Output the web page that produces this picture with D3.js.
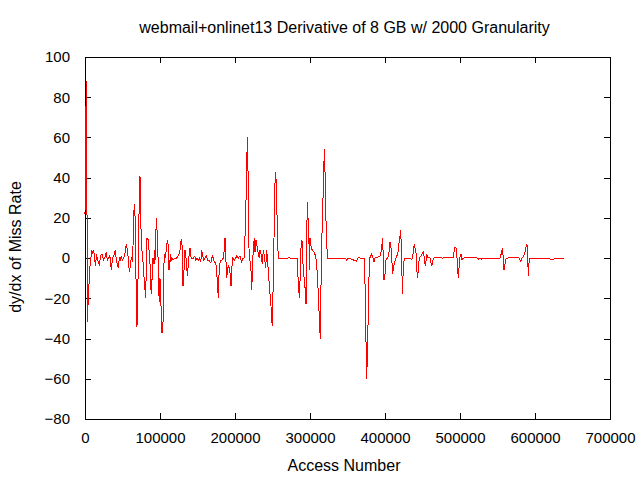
<!DOCTYPE html>
<html>
<head>
<meta charset="utf-8">
<script src="https://cdn.jsdelivr.net/npm/d3@7"></script>
<style>
  body { margin: 0; background: #fff; }
  svg { display: block; }
</style>
</head>
<body>
<div id="chart"></div>
<script>
// access numbers (x) and derivative values (y)
var accessNum = [
  0, 1000, 1800, 2600, 3300, 3900, 4700, 5700, 6700, 7600, 8900, 10300, 11600, 12900, 14300, 15100,
  16400, 17700, 19100, 20400, 21700, 23100, 24400, 25700, 27100, 28400, 29700, 31100, 32400, 33700,
  35100, 36400, 37700, 39100, 40400, 41700, 43100, 44400, 45700, 47100, 48400, 49700, 51100, 52400,
  53700, 55100, 56400, 57700, 59100, 60400, 61700, 63100, 64000, 64900, 65700, 66700, 67600, 68400,
  69300, 70300, 71300, 72300, 73300, 74300, 75100, 76400, 77700, 79600, 80900, 81700, 82700, 84400,
  85700, 86700, 87600, 88400, 89700, 90700, 92000, 92900, 93700, 94300, 95100, 96000, 96900, 97700,
  98300, 99100, 100000, 100900, 102300, 103600, 104400, 104900, 105700, 107100, 108400, 109700,
  111100, 112000, 112900, 113700, 114300, 115600, 117300, 119600, 122300, 125300, 126700, 127600,
  128900, 129700, 130700, 131600, 132400, 133300, 134300, 135600, 136400, 137300, 138700, 140000,
  140900, 142300, 144400, 146300, 147600, 149300, 151100, 152400, 154300, 155600, 156400, 158300,
  160000, 161700, 163600, 165300, 166700, 168000, 169700, 171100, 172400, 174300, 175600, 176900,
  177700, 178700, 179600, 180900, 182300, 184400, 185700, 186700, 187600, 188900, 190300, 191600,
  192900, 193700, 194700, 195600, 196900, 199100, 200900, 202300, 204400, 206700, 208900, 210300,
  212000, 213300, 214700, 215600, 216900, 217700, 218300, 219100, 220400, 221300, 222300, 223100,
  224400, 225700, 226700, 228000, 228900, 230300, 231100, 232400, 233300, 234700, 236400, 237700,
  239100, 240900, 242300, 243600, 245300, 246700, 248000, 248900, 249700, 251100, 252000, 252900,
  254300, 255600, 256400, 257700, 270700, 272000, 273300, 282700, 283600, 284900, 285700, 286700,
  288000, 289300, 290300, 291100, 292400, 293700, 294700, 295600, 296900, 297700, 298700, 299100,
  300000, 301700, 303100, 305300, 307600, 308900, 310300, 311600, 312400, 313700, 314700, 315600,
  316400, 317700, 319100, 320000, 321300, 323100, 346700, 348900, 350700, 362300, 364400, 366700,
  372000, 372900, 373700, 374700, 375600, 376400, 377700, 378700, 379600, 382300, 383600, 385300,
  386700, 393300, 394700, 396000, 396900, 397700, 398700, 400000, 401300, 403100, 404400, 405700,
  406700, 408000, 409300, 410300, 411100, 412400, 413700, 415600, 416900, 418300, 419100, 420000,
  420900, 422300, 423100, 424400, 425700, 435600, 436900, 437700, 439100, 440000, 441300, 442300,
  443100, 444400, 445700, 448000, 449300, 451100, 452400, 453700, 454700, 455600, 456900, 460000,
  462300, 463600, 464900, 474700, 476000, 491100, 492400, 493300, 494700, 496000, 496900, 497700,
  499100, 500000, 501300, 502700, 504000, 521300, 523100, 524400, 526700, 528900, 531100, 553300,
  554300, 555600, 556400, 557700, 558700, 560000, 561300, 563100, 577600, 578700, 580000, 581300,
  582300, 583600, 585300, 586700, 588000, 589300, 590300, 591100, 592000, 593300, 623600, 625300,
  626700, 638700
];

var dydx = [
  22, 66, 88, 29, -32, -24, -18, -10, -4, -1, 4, 2, 4, -1, -4, 2,
  0, -2, -3, 0, 2, 2, -1, 0, 1, 3, -1, 0, 1, 0,
  -6, -1, 1, 2, 4, -1, -3, -5, 0, -1, 1, -1, 0, 1,
  3, 7, 4, 0, -7, -4, 0, -1, 6, 20, 27, 21, 2, -22,
  -34, -20, 5, 29, 41, 24, 5, 3, -4, -14, -20, -5, 10, 9,
  2, -3, -13, -18, -8, 0, -3, 4, -1, 9, 20, 14, 5, -3,
  -16, -22, -10, -18, -37, -37, -27, -8, 2, 0, 4, 9,
  6, -6, -5, 2, -2, 0, -1, 0, 0, 2, 4, 8,
  9, 5, -14, -9, -3, 4, 2, -4, -9, -5, 1, 5,
  1, 0, 0, 1, -1, 0, -1, 0, -2, 4, 2, -1,
  0, 1, -1, -1, -2, -2, 1, 0, -2, -2, -7, -14,
  -20, -8, -3, -1, -1, 0, 4, 10, 2, -10, -5, -4,
  -5, -9, -14, -6, 0, -1, 0, 1, 0, 1, -2, 0,
  0, 10, 29, 49, 60, 30, 9, 0, -2, -6, -16, -7,
  5, 10, 3, 9, 7, 4, 2, 0, 4, 2, -3, 4,
  1, -5, 4, -2, -11, -18, -24, -30, -34, -10, 10, 35,
  43, 30, 14, 0, 0, 0.5, 0, 0, -7, -14, -20, -11,
  5, 9, 0, -6, -11, -16, -23, 15, 28, 14, 7, -6,
  10, 5, 4, 3, 1, -3, -12, -22, -30, -40, -13, 5,
  19, 34, 54, 43, 19, 0, 0, -1, 0, -1.5, 0.5, 0,
  0, -6, -18, -42, -60, -49, -28, -9, 0, 2, 0.5, -2,
  0, 1, 3, 7, 10, 0, -11, -8, -1, 0, 1, 4,
  8, 5, -2, -8, -5, -3, -1, 1, 2, 5, 10, 11,
  14, 0, -18, -5, 0, -0.5, 0, 4, 7, 5, 3, -4,
  -10, -6, 0, 1, 2, 3, 0.5, -4, -1.5, 2, 0.5, 0,
  -4, -1.5, 0, 0.5, 0, 0.5, 4, 5.5, 5, 0, -5, -10,
  -3, 0.5, 2, -1, 0, 0.5, 0, -0.5, 0, -0.5, 0, 0,
  1.3, 3, 5, 0, -6, -3, -0.5, 0, 0.5, 0, -1, -1.6,
  0, 0.5, 1.3, 3, 5.5, 7, 0, -9, -2.5, 0, -0.5, -0.5,
  0, 0
];

var xTicks = [0, 100000, 200000, 300000, 400000, 500000, 600000, 700000];
var yTicks = [-80, -60, -40, -20, 0, 20, 40, 60, 80, 100];

function init(){
    var w = 640;
    var h = 480;
    var left = 85, right = 610, top = 57, bottom = 419;
    var font = "'Liberation Sans', Arial, sans-serif";

    var data = accessNum.map(function(d, i){ return {x: d, y: dydx[i]}; });

    var x = d3.scaleLinear().domain([0, 700000]).range([left, right]);
    var y = d3.scaleLinear().domain([-80, 100]).range([bottom, top]);

    var svg = d3.select("#chart")
                .append("svg")
                .attr("width", w)
                .attr("height", h);

    svg.append("rect")
       .attr("width", w)
       .attr("height", h)
       .attr("fill", "white");

    // data line
    var line = d3.line()
                 .x(function(d){ return x(d.x); })
                 .y(function(d){ return y(d.y); });

    // frame first so the red line sits on top of it, like gnuplot
    svg.append("rect")
       .attr("x", left)
       .attr("y", top)
       .attr("width", right - left)
       .attr("height", bottom - top)
       .attr("fill", "none")
       .attr("stroke", "black")
       .attr("shape-rendering", "crispEdges");

    // axes, ticks pointing inward, mirrored on top/right
    var axes = [
        {ax: d3.axisBottom(x).tickValues(xTicks).tickFormat(d3.format("d")).tickPadding(13), tr: "translate(0," + bottom + ")"},
        {ax: d3.axisTop(x).tickValues(xTicks).tickFormat(""), tr: "translate(0," + top + ")"},
        {ax: d3.axisLeft(y).tickValues(yTicks).tickPadding(15), tr: "translate(" + left + ",0)"},
        {ax: d3.axisRight(y).tickValues(yTicks).tickFormat(""), tr: "translate(" + right + ",0)"}
    ];

    axes.forEach(function(a){
        var g = svg.append("g")
                   .attr("transform", a.tr)
                   .call(a.ax.tickSizeInner(-6).tickSizeOuter(0));
        g.attr("font-family", font).attr("font-size", 15);
        g.selectAll("line").attr("stroke", "black").attr("shape-rendering", "crispEdges");
        g.select(".domain").remove();
        g.selectAll("text").attr("fill", "black");
    });

    svg.append("path")
       .datum(data)
       .attr("d", line)
       .attr("fill", "none")
       .attr("stroke", "#ff0000")
       .attr("stroke-width", 1)
       .attr("shape-rendering", "crispEdges");

    // title
    svg.append("text")
       .attr("x", 344.5)
       .attr("y", 33)
       .attr("text-anchor", "middle")
       .style("font-family", font)
       .style("font-size", "16px")
       .text("webmail+onlinet13 Derivative of 8 GB w/ 2000 Granularity");

    // x label
    svg.append("text")
       .attr("x", 344)
       .attr("y", 471)
       .attr("text-anchor", "middle")
       .style("font-family", font)
       .style("font-size", "16px")
       .text("Access Number");

    // y label
    svg.append("text")
       .attr("transform", "translate(21,247) rotate(-90)")
       .attr("text-anchor", "middle")
       .style("font-family", font)
       .style("font-size", "16px")
       .text("dy/dx of Miss Rate");
}

window.onload = init;
</script>
</body>
</html>
